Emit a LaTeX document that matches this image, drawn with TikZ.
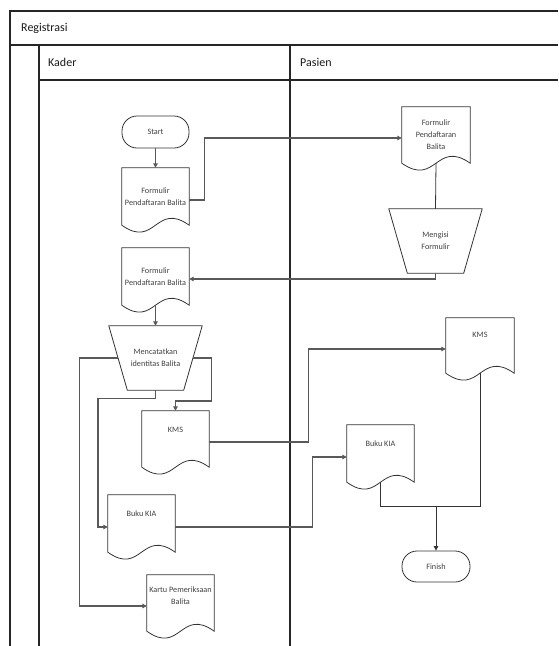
\documentclass[tikz,border=0pt]{standalone}
\usepackage{fontspec}
\setmainfont{Carlito}
\usetikzlibrary{calc,arrows.meta}
\tikzset{
  frameline/.style={draw=black!85, line width=1.1pt},
  lanetitle/.style={anchor=west, font=\fontsize{12}{14}\selectfont, text=black!90, inner sep=0pt},
  box/.style={draw=none, inner sep=1pt, align=center, text=black!75,
              font=\fontsize{8.2}{13}\selectfont},
  shapeline/.style={draw=black!80, line width=0.8pt},
  term/.style={draw=black!80, line width=0.8pt, rounded corners=15pt, minimum width=67pt,
               minimum height=32pt, align=center, text=black!75, font=\fontsize{8.2}{13}\selectfont},
  conn/.style={draw=black!65, line width=1.1pt},
  arr/.style={conn, -{Triangle[length=4.5pt,width=4.5pt]}},
  thin conn/.style={draw=black!80, line width=0.8pt}
}
\newcommand{\docoutline}[1]{%
  \draw[shapeline] (#1.north west) -- (#1.north east) -- (#1.south east)
    .. controls ($(#1.south)+(0,-24)$) and ($(#1.south)+(0,24)$) .. (#1.south west) -- cycle;}
\newcommand{\trapoutline}[1]{%
  \draw[shapeline] (#1.north west) -- (#1.north east) -- ($(#1.south east)+(-18.5,0)$)
    -- ($(#1.south west)+(18.5,0)$) -- cycle;}
\begin{document}
\begin{tikzpicture}[x=1pt,y=-1pt]
\useasboundingbox (0,0) rectangle (558,646);
% frame
\coordinate (tl) at (10,11);
\coordinate (tr) at (558,11);
\coordinate (hl1) at (10,45);
\coordinate (hr1) at (558,45);
\coordinate (hl2) at (39,80);
\coordinate (hr2) at (558,80);
\coordinate (bl) at (10,646);
\coordinate (v1t) at (39,45);
\coordinate (v1b) at (39,646);
\coordinate (v2t) at (290,45);
\coordinate (v2b) at (290,646);
\draw[frameline] (tr) -- (tl) -- (bl);
\draw[frameline] (hl1) -- (hr1);
\draw[frameline] (hl2) -- (hr2);
\draw[frameline] (v1t) -- (v1b);
\draw[frameline] (v2t) -- (v2b);
\node[lanetitle] (reg) at (21,28.5) {Registrasi};
\node[lanetitle] (kader) at (48,62.5) {Kader};
\node[lanetitle] (pasien) at (300,62.5) {Pasien};

% nodes
\node[term] (start) at (155.5,132) {Start};
\node[box, minimum width=67pt, minimum height=57pt] (d1) at (155.5,196.5) {Formulir\\[-1pt]Pendaftaran Balita};
\docoutline{d1}
\node[box, minimum width=67pt, minimum height=57pt] (d2) at (155.5,276.5) {Formulir\\[-1pt]Pendaftaran Balita};
\docoutline{d2}
\node[box, minimum width=68pt, minimum height=56pt] (f2) at (436,135) {Formulir\\[-1pt]Pendaftaran\\[-1pt]Balita};
\docoutline{f2}
\node[box, minimum width=93pt, minimum height=64pt] (mengisi) at (435.5,241) {Mengisi\\[-1pt]Formulir};
\trapoutline{mengisi}
\node[box, minimum width=93pt, minimum height=64pt] (catat) at (155.5,358) {Mencatatkan\\[-1pt]identitas Balita};
\trapoutline{catat}
\node[box, minimum width=67pt, minimum height=56pt] (kms1) at (175.5,439) {KMS\\[6pt]};
\docoutline{kms1}
\node[box, minimum width=67pt, minimum height=57pt] (kia1) at (141.5,523.5) {Buku KIA\\[6pt]};
\docoutline{kia1}
\node[box, minimum width=67pt, minimum height=56pt] (kartu) at (180.5,603) {Kartu Pemeriksaan\\[-1pt]Balita\\[1pt]};
\docoutline{kartu}
\node[box, minimum width=68pt, minimum height=55pt] (kms2) at (480,345.5) {KMS\\[8pt]};
\docoutline{kms2}
\node[box, minimum width=67pt, minimum height=57pt] (kia2) at (380.5,453.5) {Buku KIA\\[6pt]};
\docoutline{kia2}
\node[term, minimum width=68pt, minimum height=31pt] (finish) at (436,566.5) {Finish};

% connectors
\draw[arr] (start.south) -- (d1.north);
\draw[arr] ($(d1.east)+(0,3.5)$) -- ++(15,0) |- ($(f2.west)+(0,3)$);
\draw[thin conn] (f2.south) -- (mengisi.north);
\draw[arr] (mengisi.south) |- ($(d2.east)+(0,2.5)$);
\draw[arr] (d2.south) -- (catat.north);
\draw[arr] ($(catat.west)+(9.5,0)$) -- ++(-38.5,0) |- ($(kartu.west)+(0,3)$);
\draw[arr] ($(catat.east)+(-9.5,0)$) -- ++(18.5,0) -- ++(0,43) -| (kms1.north);
\draw[arr] (catat.south) -- ++(0,8) -- ++(-57.5,0) |- ($(kia1.west)+(0,3.5)$);
\draw[arr] ($(kms1.east)+(0,3)$) -- ++(99,0) |- ($(kms2.west)+(0,3.5)$);
\draw[arr] ($(kia1.east)+(0,3.5)$) -- ++(137,0) |- ($(kia2.west)+(0,3.5)$);
\coordinate (j) at (436,506);
\draw[thin conn] (kia2.south) |- (j);
\draw[thin conn] (kms2.south) |- (j);
\draw[thin conn, -{Triangle[length=4.5pt,width=4.5pt]}] (j) -- (finish.north);
\end{tikzpicture}
\end{document}
